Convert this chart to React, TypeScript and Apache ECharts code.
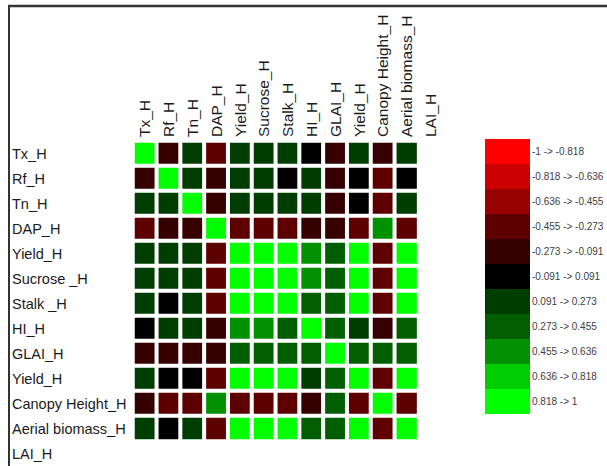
import React, { useEffect, useRef } from "react";
import * as echarts from "echarts";

const labels = [
  "Tx_H", "Rf_H", "Tn_H", "DAP_H", "Yield_H", "Sucrose _H", "Stalk _H",
  "HI_H", "GLAI_H", "Yield_H", "Canopy Height_H", "Aerial biomass_H", "LAI_H",
];
const colLabels = [
  "Tx_H", "Rf_H", "Tn_H", "DAP_H", "Yield_H", "Sucrose_H", "Stalk_H",
  "HI_H", "GLAI_H", "Yield_H", "Canopy Height_H", "Aerial biomass_H", "LAI_H",
];

// correlation estimates, row by row (12 x 12, LAI_H has no cells)
const rowTx = [1, -0.2, 0.18, -0.38, 0.16, 0.17, 0.18, 0.02, -0.2, 0.18, -0.22, 0.17];
const rowRf = [-0.2, 1, 0.17, -0.24, 0.18, 0.17, -0.03, 0.15, -0.22, 0.01, -0.36, 0.0];
const rowTn = [0.18, 0.17, 1, -0.21, 0.17, 0.18, 0.16, 0.17, -0.2, -0.02, -0.37, 0.16];
const rowDAP = [-0.38, -0.24, -0.21, 1, -0.37, -0.38, -0.36, -0.27, -0.25, -0.39, 0.5, -0.38];
const rowYield = [0.16, 0.18, 0.17, -0.37, 1, 0.98, 0.95, 0.52, 0.35, 0.97, -0.39, 0.96];
const rowSucrose = [0.17, 0.17, 0.18, -0.38, 0.98, 1, 0.94, 0.5, 0.34, 0.96, -0.38, 0.95];
const rowStalk = [0.18, -0.03, 0.16, -0.36, 0.95, 0.94, 1, 0.38, 0.36, 0.94, -0.37, 0.94];
const rowHI = [0.02, 0.15, 0.17, -0.27, 0.52, 0.5, 0.38, 1, 0.37, 0.2, -0.25, 0.36];
const rowGLAI = [-0.2, -0.22, -0.2, -0.25, 0.35, 0.34, 0.36, 0.37, 1, 0.38, 0.37, 0.39];
const rowYield2 = [0.18, 0.01, -0.02, -0.39, 0.97, 0.96, 0.94, 0.2, 0.38, 1, -0.38, 0.97];
const rowCanopy = [-0.22, -0.36, -0.37, 0.5, -0.39, -0.38, -0.37, -0.25, 0.37, -0.38, 1, -0.37];
const rowAerial = [0.17, 0.0, 0.16, -0.38, 0.96, 0.95, 0.94, 0.36, 0.39, 0.97, -0.37, 1];

const matrix = [
  rowTx, rowRf, rowTn, rowDAP, rowYield, rowSucrose, rowStalk,
  rowHI, rowGLAI, rowYield2, rowCanopy, rowAerial,
];

const binEdges = [-1, -0.818, -0.636, -0.455, -0.273, -0.091, 0.091, 0.273, 0.455, 0.636, 0.818, 1];
const binLabels = [
  "-1 -> -0.818", "-0.818 -> -0.636", "-0.636 -> -0.455", "-0.455 -> -0.273",
  "-0.273 -> -0.091", "-0.091 -> 0.091", "0.091 -> 0.273", "0.273 -> 0.455",
  "0.455 -> 0.636", "0.636 -> 0.818", "0.818 -> 1",
];
const binColors = [
  "#ff0000", "#cc0000", "#990000", "#5e0000", "#360000", "#000000",
  "#003d00", "#005e00", "#009000", "#00cc00", "#00ff00",
];

export default function App() {
  const ref = useRef<HTMLDivElement>(null);
  useEffect(() => {
    document.body.style.margin = "0";
    const chart = echarts.init(ref.current!, null, { renderer: "svg" });
    const data: number[][] = [];
    matrix.forEach((row, r) => row.forEach((v, c) => data.push([c, r, v])));
    const pieces = binLabels.map((lab, i) =>
      i === binLabels.length - 1
        ? { gte: binEdges[i], lte: binEdges[i + 1], label: lab, color: binColors[i] }
        : { gte: binEdges[i], lt: binEdges[i + 1], label: lab, color: binColors[i] }
    );
    chart.setOption({
      animation: false,
      backgroundColor: "#ffffff",
      grid: { left: 133, top: 141, width: 309.4, height: 327.6 },
      xAxis: {
        type: "category",
        position: "top",
        data: colLabels,
        axisLine: { show: false },
        axisTick: { show: false },
        splitLine: { show: false },
        axisLabel: {
          interval: 0,
          rotate: -90,
          margin: 4,
          fontFamily: "Liberation Sans",
          fontSize: 15.5,
          color: "#1a1a1a",
        },
      },
      yAxis: {
        type: "category",
        inverse: true,
        data: labels,
        axisLine: { show: false },
        axisTick: { show: false },
        splitLine: { show: false },
        axisLabel: {
          interval: 0,
          align: "left",
          margin: 121,
          fontFamily: "Liberation Sans",
          fontSize: 14.5,
          color: "#1a1a1a",
        },
      },
      visualMap: {
        type: "piecewise",
        pieces,
        inverse: true,
        orient: "vertical",
        left: 485,
        top: 139,
        itemWidth: 45,
        itemHeight: 25,
        itemGap: 0,
        itemSymbol: "rect",
        align: "left",
        textGap: 2,
        selectedMode: false,
        padding: 0,
        textStyle: { fontFamily: "Liberation Sans", fontSize: 10, color: "#404040" },
      },
      graphic: [
        { type: "line", shape: { x1: 8, y1: 6, x2: 607, y2: 6 }, style: { stroke: "#333", lineWidth: 2.5 } },
        { type: "line", shape: { x1: 9, y1: 5, x2: 9, y2: 466 }, style: { stroke: "#333", lineWidth: 2 } },
      ],
      series: [
        {
          type: "heatmap",
          data,
          itemStyle: { borderColor: "#ffffff", borderWidth: 4 },
          emphasis: { disabled: true },
        },
      ],
    });
    return () => chart.dispose();
  }, []);
  return <div ref={ref} style={{ width: 607, height: 466 }} />;
}
